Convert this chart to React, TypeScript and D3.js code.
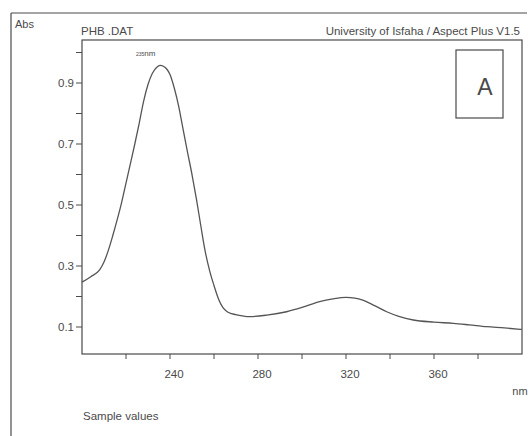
import React from "react";
import * as d3 from "d3";

const wavelengths = [200, 204, 208, 210, 212, 214, 216, 218, 220, 222, 224, 226, 228, 230, 232, 234, 235.5, 237, 238.5, 240, 242, 244, 246, 248, 250, 252, 254, 256, 258, 260, 262, 264, 266, 268, 271, 276, 284, 293, 300, 308, 314, 320, 324, 328, 333, 338.5, 344, 350.6, 360, 368.8, 376, 384, 392, 399.9];
const absorbance = [0.247, 0.265, 0.287, 0.313, 0.352, 0.400, 0.452, 0.508, 0.572, 0.636, 0.700, 0.768, 0.840, 0.895, 0.932, 0.952, 0.958, 0.955, 0.946, 0.928, 0.882, 0.822, 0.746, 0.672, 0.600, 0.520, 0.432, 0.348, 0.285, 0.236, 0.193, 0.164, 0.150, 0.144, 0.139, 0.134, 0.139, 0.150, 0.164, 0.183, 0.192, 0.197, 0.195, 0.187, 0.170, 0.150, 0.135, 0.123, 0.116, 0.112, 0.107, 0.101, 0.097, 0.092];

const yMajorTicks = [0.1, 0.3, 0.5, 0.7, 0.9];
const yMinorTicks = [0.2, 0.4, 0.6, 0.8, 1.0];
const xMajorTicks = [240, 280, 320, 360];
const xMinorTicks = [220, 260, 300, 340, 380];

const W = 531;
const H = 436;
const left = 82, right = 522, top = 40, bottom = 354;
const ink = "#4a4a4a";
const font = "Liberation Sans, Arial, sans-serif";

export default function App() {
  const x = d3.scaleLinear().domain([200, 400]).range([left, right]);
  const y = d3.scaleLinear().domain([0.0115, 1.041]).range([bottom, top]);
  const pts = wavelengths.map((w, i) => [w, absorbance[i]] as [number, number]);
  const line = d3
    .line<[number, number]>()
    .x((d) => x(d[0]))
    .y((d) => y(d[1]))
    .curve(d3.curveMonotoneX);

  return (
    <svg
      width={W}
      height={H}
      style={{ position: "absolute", left: 0, top: 0, background: "#fff" }}
      fontFamily={font}
    >
      <rect x={0} y={0} width={W} height={H} fill="#fff" />
      {/* outer frame */}
      <line x1={11} y1={13} x2={527} y2={13} stroke={ink} strokeWidth={1.2} />
      <line x1={11} y1={13} x2={11} y2={H} stroke={ink} strokeWidth={1.2} />
      {/* header texts */}
      <text x={15} y={28} fontSize={11} fill={ink}>Abs</text>
      <text x={81} y={35} fontSize={11.5} fill={ink}>PHB .DAT</text>
      <text x={520} y={35} fontSize={11.5} fill={ink} textAnchor="end">
        University of Isfaha / Aspect Plus V1.5
      </text>
      {/* plot frame */}
      <rect x={left} y={top} width={right - left} height={bottom - top} fill="none" stroke={ink} strokeWidth={1.2} />
      {/* y ticks */}
      {yMajorTicks.map((t) => (
        <g key={"ym" + t}>
          <line x1={left - 6} x2={left} y1={y(t)} y2={y(t)} stroke={ink} strokeWidth={1} />
          <text x={left - 8} y={y(t) + 4} fontSize={11.5} fill={ink} textAnchor="end">
            {t.toFixed(1)}
          </text>
        </g>
      ))}
      {yMinorTicks.map((t) => (
        <line key={"yn" + t} x1={left - 6} x2={left} y1={y(t)} y2={y(t)} stroke={ink} strokeWidth={1} />
      ))}
      {/* x ticks */}
      {xMajorTicks.map((t) => (
        <g key={"xm" + t}>
          <line x1={x(t)} x2={x(t)} y1={bottom} y2={bottom + 5} stroke={ink} strokeWidth={1} />
          <text x={x(t) + 4} y={378} fontSize={11.5} fill={ink} textAnchor="middle">
            {t}
          </text>
        </g>
      ))}
      {xMinorTicks.map((t) => (
        <line key={"xn" + t} x1={x(t)} x2={x(t)} y1={bottom} y2={bottom + 5} stroke={ink} strokeWidth={1} />
      ))}
      <text x={520} y={395} fontSize={11} fill={ink} textAnchor="middle">nm</text>
      <text x={83} y={420} fontSize={11.5} fill={ink}>Sample values</text>
      {/* annotation box */}
      <rect x={456} y={50} width={47} height={68} fill="none" stroke={ink} strokeWidth={1.2} />
      <text x={485} y={95} fontSize={23} fill={ink} textAnchor="middle">A</text>
      {/* peak label */}
      <text x={136} y={56} fill={ink}>
        <tspan fontSize={5}>235</tspan>
        <tspan fontSize={8}>nm</tspan>
      </text>
      {/* spectrum */}
      <path d={line(pts) || ""} fill="none" stroke="#555" strokeWidth={1.3} />
    </svg>
  );
}
